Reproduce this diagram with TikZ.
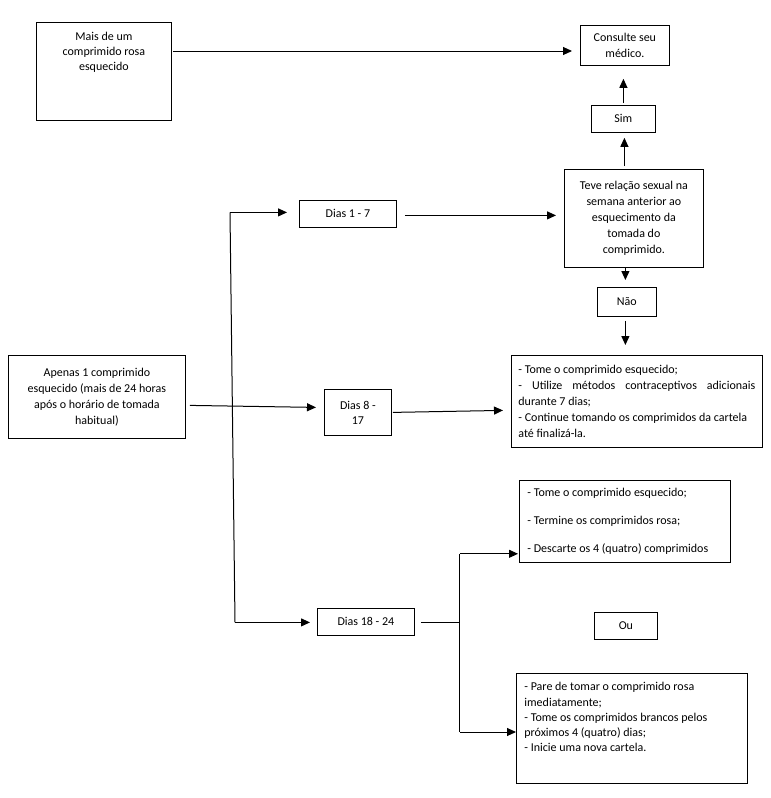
\documentclass[tikz,border=0pt]{standalone}
\usepackage{fontspec}
\setmainfont{Carlito}
\usetikzlibrary{arrows.meta,calc}
\newcommand\boxtxt[4]{\parbox[c][#2][#3]{#1}{#4}}
\begin{document}
\begin{tikzpicture}[x=1pt,y=-1pt,
  box/.style={draw, line width=0.8pt, inner sep=0pt, anchor=north west, font=\fontsize{12}{16}\selectfont},
  conn/.style={line width=1pt},
  arr/.style={conn, -{Triangle[length=9pt,width=8pt]}}]
\useasboundingbox (0,0) rectangle (771,798);
\fill[white] (0,0) rectangle (771,798);

\node[box] (mais) at (36,22) {\boxtxt{135pt}{98pt}{t}{\centering\fontsize{12}{15}\selectfont\vspace*{10pt}Mais de um\\comprimido rosa\\esquecido\par}};
\node[box] (consult) at (580,25) {\boxtxt{89pt}{40pt}{c}{\centering Consulte seu\\médico.\par}};
\node[box] (sim) at (591,105) {\boxtxt{64pt}{27pt}{c}{\centering Sim\par}};
\node[box] (teve) at (564,169) {\boxtxt{139pt}{98pt}{c}{\centering Teve relação sexual na\\semana anterior ao\\esquecimento da\\tomada do\\comprimido.\par}};
\node[box] (nao) at (597,287) {\boxtxt{59pt}{29pt}{c}{\centering Não\par}};
\node[box, inner xsep=7pt] (tome) at (511,355) {\boxtxt{237pt}{92pt}{c}{\raggedright - Tome o comprimido esquecido;\\\makebox[\linewidth][s]{- Utilize métodos contraceptivos adicionais}\\durante 7 dias;\\- Continue tomando os comprimidos da cartela\\até finalizá-la.\par}};
\node[box] (dias17) at (299,200) {\boxtxt{97pt}{27pt}{c}{\centering Dias 1 - 7\par}};
\node[box] (apenas) at (8,355) {\boxtxt{177pt}{83pt}{c}{\centering Apenas 1 comprimido\\esquecido (mais de 24 horas\\após o horário de tomada\\habitual)\par}};
\node[box] (dias817) at (324,389) {\boxtxt{67pt}{46pt}{c}{\centering\fontsize{12}{15}\selectfont Dias 8 -\\17\par}};
\node[box] (dias1824) at (317,608) {\boxtxt{97pt}{27pt}{c}{\centering Dias 18 - 24\par}};
\node[box, inner xsep=8pt] (tomeA) at (519,480) {\boxtxt{195pt}{82pt}{c}{\raggedright\fontsize{12}{14}\selectfont - Tome o comprimido esquecido;\\[14pt]- Termine os comprimidos rosa;\\[14pt]- Descarte os 4 (quatro) comprimidos\par}};
\node[box] (ou) at (594,612) {\boxtxt{63pt}{27pt}{c}{\centering Ou\par}};
\node[box, inner xsep=8pt] (pare) at (516,673) {\boxtxt{215pt}{110pt}{t}{\raggedright\fontsize{12}{15.3}\selectfont\vspace*{9pt}- Pare de tomar o comprimido rosa\\imediatamente;\\- Tome os comprimidos brancos pelos\\próximos 4 (quatro) dias;\\- Inicie uma nova cartela.\par}};

% connectors
\draw[arr] ($(mais.north east)+(1,29)$) -- ($(consult.north west)+(-8,26)$);
\draw[arr] ($(sim.north)+(0,-2)$) -- ($(consult.south)+(-1.5,13)$);
\draw[arr] ($(sim.south |- teve.north)+(1,-3)$) -- ($(sim.south)+(1,5)$);
\draw[arr] ($(sim.south |- teve.south)+(2,0)$) -- ($(nao.north)+(-1.5,-7)$);
\draw[arr] ($(nao.south)+(-1.5,4)$) -- ($(nao.south |- tome.north)+(-1.5,-10)$);

\coordinate (b1) at ($(dias17.west)+(-69,-1.5)$);
\coordinate (b2) at ($(dias1824.west)+(-82,0.5)$);
\draw[conn] (b1) -- (b2);
\draw[arr] (b1) -- ($(dias17.west)+(-12,-1.5)$);
\draw[arr] (b2) -- ($(dias1824.west)+(-7,0.5)$);

\draw[arr] ($(apenas.east)+(4,8.5)$) -- ($(dias817.west)+(-8,-5)$);
\draw[arr] ($(dias17.east)+(8,1.5)$) -- ($(teve.west)+(-8,-3)$);
\draw[arr] ($(dias817.east)+(1,0)$) -- ($(tome.west)+(-8,9)$);

\coordinate (f0) at ($(dias1824.east)+(6,0.5)$);
\coordinate (f1) at ($(dias1824.east)+(45,0.5)$);
\coordinate (ta) at ($(tomeA.south west)+(-1,-9)$);
\coordinate (pa) at ($(pare.north west)+(0,59)$);
\draw[conn] (f0) -- (f1);
\draw[conn] (f1 |- ta) -- (f1 |- pa);
\draw[arr] (f1 |- ta) -- (ta);
\draw[arr] (f1 |- pa) -- (pa);
\end{tikzpicture}
\end{document}
